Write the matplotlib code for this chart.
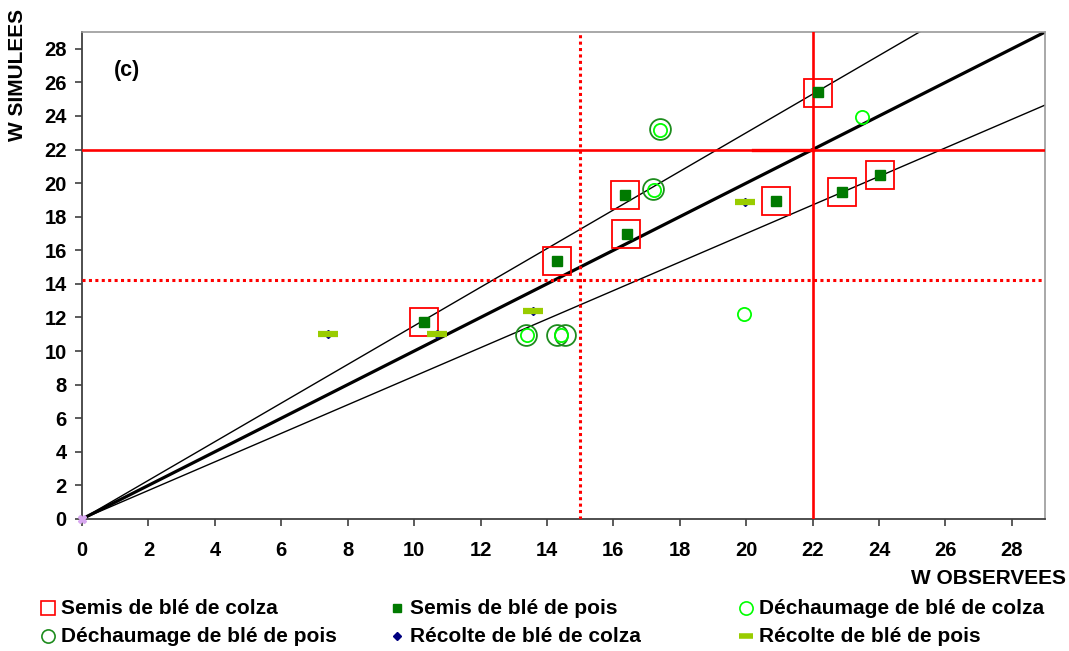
import numpy as np
import matplotlib
matplotlib.use("Agg")
from matplotlib import pyplot as plt
from matplotlib.lines import Line2D

plt.rcParams["font.family"] = ["Liberation Sans", "DejaVu Sans"]
plt.rcParams["font.weight"] = "bold"

# Semis (red boxes + green squares share the same points)
semis_colza_x = [10.29, 14.29, 16.36, 16.38, 20.89, 22.16, 22.89, 24.03]
semis_colza_y = [11.75, 15.34, 19.28, 16.96, 18.95, 25.37, 19.48, 20.49]
semis_pois_x = [10.30, 14.30, 16.36, 16.40, 20.90, 22.17, 22.90, 24.04]
semis_pois_y = [11.75, 15.34, 19.30, 16.98, 18.95, 25.40, 19.50, 20.50]

dech_colza_x = [23.48, 19.93, 17.40, 17.21, 13.39, 14.41]
dech_colza_y = [23.92, 12.23, 23.17, 19.60, 10.98, 10.98]
dech_pois_x = [17.40, 17.19, 13.37, 14.30, 14.55]
dech_pois_y = [23.20, 19.65, 10.98, 10.98, 10.98]

recolte_colza_x = [7.42, 10.68, 13.59, 19.96]
recolte_colza_y = [11.00, 11.00, 12.41, 18.87]
recolte_pois_x = [7.42, 10.68, 13.59, 19.96]
recolte_pois_y = [11.00, 11.00, 12.41, 18.87]

# reference lines 1:1 and +/-15 %
ref_x = [0, 30]
ref_11 = [0, 30]
ref_up = [0, 34.5]
ref_low = [0, 25.5]

seuil_obs = 22      # solid red lines
seuil_sim = 22
dot_obs = 15        # dotted red lines
dot_sim = 14.25

ticks = list(range(0, 29, 2))

fig = plt.figure(figsize=(10.69, 6.51), dpi=100)
ax = fig.add_axes([0.0767, 0.2028, 0.9009, 0.748])

ax.plot(ref_x, ref_up, color="black", lw=1.0, zorder=2)
ax.plot(ref_x, ref_low, color="black", lw=1.0, zorder=2)
ax.plot(ref_x, ref_11, color="black", lw=2.3, zorder=2)

ax.axvline(seuil_obs, color="red", lw=1.9, zorder=3)
ax.axhline(seuil_sim, color="red", lw=1.9, zorder=3)
ax.plot([20.2, seuil_obs], [seuil_sim, seuil_sim], color="red", lw=2.4, zorder=3)
ax.axvline(dot_obs, color="red", lw=2.2, ls=(0, (1, 1.1)), zorder=3)
ax.axhline(dot_sim, color="red", lw=2.2, ls=(0, (1, 1.1)), zorder=3)

ax.plot(semis_colza_x, semis_colza_y, ls="none", marker="s", ms=19.5,
        mfc="none", mec="red", mew=1.3, zorder=4)
ax.plot(semis_pois_x, semis_pois_y, ls="none", marker="s", ms=6.5,
        mfc="#007A00", mec="#007A00", zorder=5)
ax.plot(dech_pois_x, dech_pois_y, ls="none", marker="o", ms=15,
        mfc="none", mec="#1E8C1E", mew=1.3, zorder=4)
ax.plot(dech_colza_x, dech_colza_y, ls="none", marker="o", ms=9.5,
        mfc="none", mec="#00FF00", mew=1.3, zorder=5)
ax.plot(recolte_colza_x, recolte_colza_y, ls="none", marker="D", ms=3.8,
        mfc="#000080", mec="#000080", zorder=5)
ax.plot(recolte_pois_x, recolte_pois_y, ls="none", marker="_", ms=15,
        mec="#99CC00", mew=4.5, zorder=6)
ax.plot([0], [0], ls="none", marker="X", ms=6, mfc="#D8A8F0", mec="#D8A8F0",
        clip_on=False, zorder=7)

ax.set_xlim(0, 29)
ax.set_ylim(0, 29)
ax.set_xticks(ticks)
ax.set_yticks(ticks)
ax.tick_params(axis="both", direction="out", length=5, width=1.2,
               color="#404040", labelsize=14.5, pad=11)
ax.tick_params(axis="y", pad=6)
for s in ["left", "bottom"]:
    ax.spines[s].set_color("#404040")
    ax.spines[s].set_linewidth(1.3)
for s in ["top", "right"]:
    ax.spines[s].set_color("#999999")
    ax.spines[s].set_linewidth(1.2)

ax.text(0.95, 26.7, "(c)", fontsize=15.5, fontweight="bold", va="center")

fig.text(0.0168, 0.987, "W SIMULEES", rotation=90, ha="center", va="top",
         fontsize=15, fontweight="bold")
fig.text(0.997, 0.112, "W OBSERVEES", ha="right", va="center",
         fontsize=15, fontweight="bold")

# legend, laid out by hand in 3 columns x 2 rows
leg_labels = ["Semis de blé de colza", "Semis de blé de pois",
              "Déchaumage de blé de colza", "Déchaumage de blé de pois",
              "Récolte de blé de colza", "Récolte de blé de pois"]
leg_styles = [
    dict(marker="s", ms=9.5, mfc="none", mec="red", mew=1.2),
    dict(marker="s", ms=6, mfc="#007A00", mec="#007A00"),
    dict(marker="o", ms=9.5, mfc="none", mec="#00FF00", mew=1.2),
    dict(marker="o", ms=9.5, mfc="none", mec="#1E8C1E", mew=1.2),
    dict(marker="D", ms=4, mfc="#000080", mec="#000080"),
    dict(marker="_", ms=10, mec="#99CC00", mew=4),
]
col_x = [48, 397, 746]
row_y = [608, 636]
for i, (lab, st) in enumerate(zip(leg_labels, leg_styles)):
    cx = col_x[i % 3] / 1069
    cy = 1 - row_y[i // 3] / 651
    fig.add_artist(Line2D([cx], [cy], ls="none", transform=fig.transFigure, **st))
    fig.text(cx + 13 / 1069, cy, lab, ha="left", va="center",
             fontsize=15, fontweight="bold")

fig.savefig("out.png", dpi=100)
